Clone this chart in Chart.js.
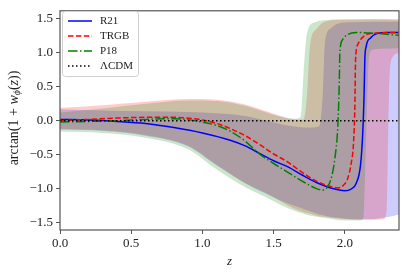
<!DOCTYPE html>
<html>
<head>
<meta charset="utf-8">
<script src="https://cdn.jsdelivr.net/npm/chart.js@4.4.0/dist/chart.umd.min.js"></script>
<style>
    html, body { margin: 0; padding: 0; background: #fff; }
    #wrap { width: 409px; height: 273px; }
</style>
</head>
<body>
<div id="wrap"><canvas id="phiChart" width="409" height="273"></canvas></div>
<script>
// 坐标轴刻度
const xTicks = [0, 0.5, 1.0, 1.5, 2.0];
const yTicks = [-1.5, -1.0, -0.5, 0, 0.5, 1.0, 1.5];

// 中心曲线
const zR21 = [0, 0.2, 0.4, 0.6, 0.8, 1.0, 1.2, 1.3, 1.4, 1.5, 1.6, 1.7, 1.8, 1.9, 1.96, 2.0, 2.04, 2.08, 2.11, 2.125, 2.135, 2.14, 2.15, 2.18, 2.22, 2.3, 2.38];
const yR21 = [0.02, 0.01, -0.01, -0.04, -0.1, -0.18, -0.29, -0.37, -0.48, -0.59, -0.68, -0.8, -0.91, -0.99, -1.02, -1.03, -1.01, -0.92, -0.65, -0.2, 0.4, 0.9, 1.1, 1.22, 1.28, 1.3, 1.3];

const zTRGB = [0, 0.2, 0.4, 0.6, 0.8, 1.0, 1.1, 1.2, 1.3, 1.4, 1.5, 1.6, 1.7, 1.8, 1.9, 1.95, 1.99, 2.02, 2.045, 2.06, 2.07, 2.075, 2.09, 2.13, 2.2, 2.38];
const yTRGB = [0.0, 0.02, 0.04, 0.05, 0.05, 0.01, -0.04, -0.12, -0.22, -0.35, -0.49, -0.61, -0.76, -0.89, -0.97, -0.99, -0.95, -0.85, -0.62, -0.35, 0.2, 0.9, 1.12, 1.24, 1.29, 1.3];

const zP18 = [0, 0.2, 0.4, 0.6, 0.8, 1.0, 1.1, 1.2, 1.3, 1.4, 1.5, 1.6, 1.7, 1.8, 1.84, 1.88, 1.91, 1.93, 1.95, 1.96, 1.965, 1.98, 2.02, 2.08, 2.2, 2.38];
const yP18 = [-0.02, -0.01, 0.0, 0.02, 0.03, -0.02, -0.07, -0.16, -0.3, -0.49, -0.63, -0.76, -0.89, -1.0, -1.02, -0.97, -0.8, -0.55, -0.1, 0.5, 1.0, 1.18, 1.27, 1.3, 1.29, 1.26];

const zLCDM = [0, 2.38];
const yLCDM = [0, 0];

// 置信带 上下边界
const zBandR21 = [0, 0.3, 0.6, 0.9, 1.1, 1.3, 1.45, 1.6, 1.75, 1.82, 1.845, 1.86, 1.9, 1.95, 2.05, 2.2, 2.3, 2.38];
const upR21 = [0.17, 0.15, 0.14, 0.13, 0.11, 0.07, 0.0, -0.07, -0.1, -0.08, 0.4, 1.15, 1.36, 1.43, 1.45, 1.46, 1.46, 1.46];
const loR21 = [-0.13, -0.15, -0.22, -0.38, -0.66, -0.92, -1.08, -1.22, -1.33, -1.38, -1.39, -1.4, -1.42, -1.43, -1.45, -1.45, -1.42, -1.38];

const zBandTRGB = [0, 0.3, 0.6, 0.9, 1.1, 1.3, 1.45, 1.55, 1.65, 1.71, 1.735, 1.755, 1.8, 1.86, 2.0, 2.2, 2.27, 2.295, 2.31, 2.33, 2.38];
const upTRGB = [0.19, 0.23, 0.28, 0.32, 0.31, 0.24, 0.14, 0.07, 0.02, 0.02, 0.4, 1.1, 1.35, 1.46, 1.49, 1.5, 1.5, 1.5, 1.5, 1.5, 1.5];
const loTRGB = [-0.12, -0.14, -0.21, -0.37, -0.65, -0.92, -1.07, -1.19, -1.3, -1.35, -1.36, -1.37, -1.4, -1.42, -1.45, -1.46, -1.45, -1.3, 0.4, 0.92, 1.0];

const zBandP18 = [0, 0.3, 0.6, 0.9, 1.1, 1.3, 1.45, 1.55, 1.65, 1.69, 1.71, 1.735, 1.79, 1.85, 2.0, 2.1, 2.13, 2.15, 2.17, 2.2, 2.38];
const upP18 = [0.12, 0.18, 0.25, 0.3, 0.29, 0.22, 0.12, 0.06, 0.03, 0.06, 0.7, 1.3, 1.45, 1.48, 1.49, 1.49, 1.49, 1.49, 1.49, 1.49, 1.48];
const loP18 = [-0.16, -0.18, -0.25, -0.42, -0.72, -0.98, -1.13, -1.24, -1.33, -1.36, -1.37, -1.39, -1.41, -1.43, -1.47, -1.47, -1.44, -0.2, 0.95, 1.05, 1.07];

const SERIF = '"Liberation Serif", "DejaVu Serif", serif';
const AXIS_COLOR = '#555';

function pts(xs, ys) {
    return xs.map((x, i) => ({ x: x, y: ys[i] }));
}

// 置信带: 上边界填充到下一条(下边界)
function band(xs, up, lo, color, order) {
    const common = { borderWidth: 0, pointRadius: 0, cubicInterpolationMode: 'monotone', order: order };
    return [
        Object.assign({ data: pts(xs, up), fill: '+1', backgroundColor: color }, common),
        Object.assign({ data: pts(xs, lo), fill: false }, common)
    ];
}

function curve(xs, ys, color, dash, order) {
    return {
        data: pts(xs, ys),
        borderColor: color,
        borderWidth: 1.5,
        borderDash: dash,
        pointRadius: 0,
        fill: false,
        cubicInterpolationMode: 'monotone',
        order: order
    };
}

const legendItems = [
    { text: 'R21', color: '#0000ff', dash: [] },
    { text: 'TRGB', color: '#ff0000', dash: [5.5, 2.4] },
    { text: 'P18', color: '#008000', dash: [9.6, 2.4, 1.5, 2.4] },
    { text: 'ΛCDM', color: '#000000', dash: [1.5, 2.5] }
];

// 图例 + 边框 + 轴标题
const decorPlugin = {
    id: 'decor',
    afterDatasetsDraw(chart) {
        const ctx = chart.ctx;
        const a = chart.chartArea;
        ctx.save();

        // 边框
        ctx.strokeStyle = AXIS_COLOR;
        ctx.lineWidth = 1.2;
        ctx.strokeRect(a.left, a.top, a.right - a.left, a.bottom - a.top);

        // 图例框
        const bx = 62.5, by = 11.5, bw = 76, bh = 65;
        ctx.beginPath();
        ctx.roundRect(bx, by, bw, bh, 3);
        ctx.fillStyle = 'rgba(255,255,255,0.8)';
        ctx.fill();
        ctx.strokeStyle = '#d0d0d0';
        ctx.lineWidth = 1;
        ctx.stroke();

        ctx.font = '11px ' + SERIF;
        ctx.textBaseline = 'middle';
        legendItems.forEach((it, i) => {
            const y = 21 + i * 15;
            ctx.beginPath();
            ctx.setLineDash(it.dash);
            ctx.strokeStyle = it.color;
            ctx.lineWidth = 1.5;
            ctx.moveTo(68, y);
            ctx.lineTo(92, y);
            ctx.stroke();
            ctx.setLineDash([]);
            ctx.fillStyle = '#222';
            ctx.fillText(it.text, 100, y + 0.5);
        });

        // x 轴标题
        ctx.font = 'italic 13px ' + SERIF;
        ctx.textAlign = 'center';
        ctx.fillStyle = '#222';
        ctx.fillText('z', (a.left + a.right) / 2, 262);

        // y 轴标题 arctan(1 + w_ϕ(z))
        const parts = [
            { t: 'arctan(1 + ', f: '14px ' + SERIF, dy: 0 },
            { t: 'w', f: 'italic 14px ' + SERIF, dy: 0 },
            { t: 'ϕ', f: 'italic 10px ' + SERIF, dy: 3 },
            { t: '(', f: '14px ' + SERIF, dy: 0 },
            { t: 'z', f: 'italic 14px ' + SERIF, dy: 0 },
            { t: '))', f: '14px ' + SERIF, dy: 0 }
        ];
        ctx.translate(14, 118);
        ctx.rotate(-Math.PI / 2);
        ctx.textAlign = 'left';
        let total = 0;
        parts.forEach(p => { ctx.font = p.f; p.w = ctx.measureText(p.t).width; total += p.w; });
        let x = -total / 2;
        parts.forEach(p => {
            ctx.font = p.f;
            ctx.fillText(p.t, x, p.dy);
            x += p.w;
        });
        ctx.restore();
    }
};

function fmtTick(v) {
    const s = Math.abs(v).toFixed(1);
    return v < 0 ? '\u2212' + s : s;
}

const datasets = [].concat(
    band(zBandR21, upR21, loR21, 'rgba(0,0,255,0.2)', 30),
    band(zBandTRGB, upTRGB, loTRGB, 'rgba(255,0,0,0.2)', 20),
    band(zBandP18, upP18, loP18, 'rgba(0,128,0,0.2)', 10),
    [
        curve(zR21, yR21, '#0000ff', [], 4),
        curve(zTRGB, yTRGB, '#ff0000', [5.5, 2.4], 3),
        curve(zP18, yP18, '#008000', [9.6, 2.4, 1.5, 2.4], 2),
        curve(zLCDM, yLCDM, '#000000', [1.5, 2.5], 1)
    ]
);

new Chart(document.getElementById('phiChart'), {
    type: 'line',
    data: { datasets: datasets },
    options: {
        responsive: false,
        animation: false,
        devicePixelRatio: 1,
        layout: { padding: { top: 7, right: 10, left: 0, bottom: 0 } },
        plugins: {
            legend: { display: false },
            tooltip: { enabled: false }
        },
        scales: {
            x: {
                type: 'linear',
                min: 0,
                max: 2.38,
                afterFit: s => { s.height = 43; },
                afterBuildTicks: s => { s.ticks = xTicks.map(v => ({ value: v })); },
                grid: { drawOnChartArea: false, tickLength: 4, color: AXIS_COLOR },
                border: { display: false },
                ticks: { callback: v => fmtTick(v), font: { family: SERIF, size: 13 }, color: '#222', padding: 2, maxRotation: 0 }
            },
            y: {
                type: 'linear',
                min: -1.61,
                max: 1.62,
                afterFit: s => { s.width = 60; },
                afterBuildTicks: s => { s.ticks = yTicks.map(v => ({ value: v })); },
                grid: { drawOnChartArea: false, tickLength: 4, color: AXIS_COLOR },
                border: { display: false },
                ticks: { callback: v => fmtTick(v), font: { family: SERIF, size: 13 }, color: '#222', padding: 3 }
            }
        }
    },
    plugins: [decorPlugin]
});
</script>
</body>
</html>
